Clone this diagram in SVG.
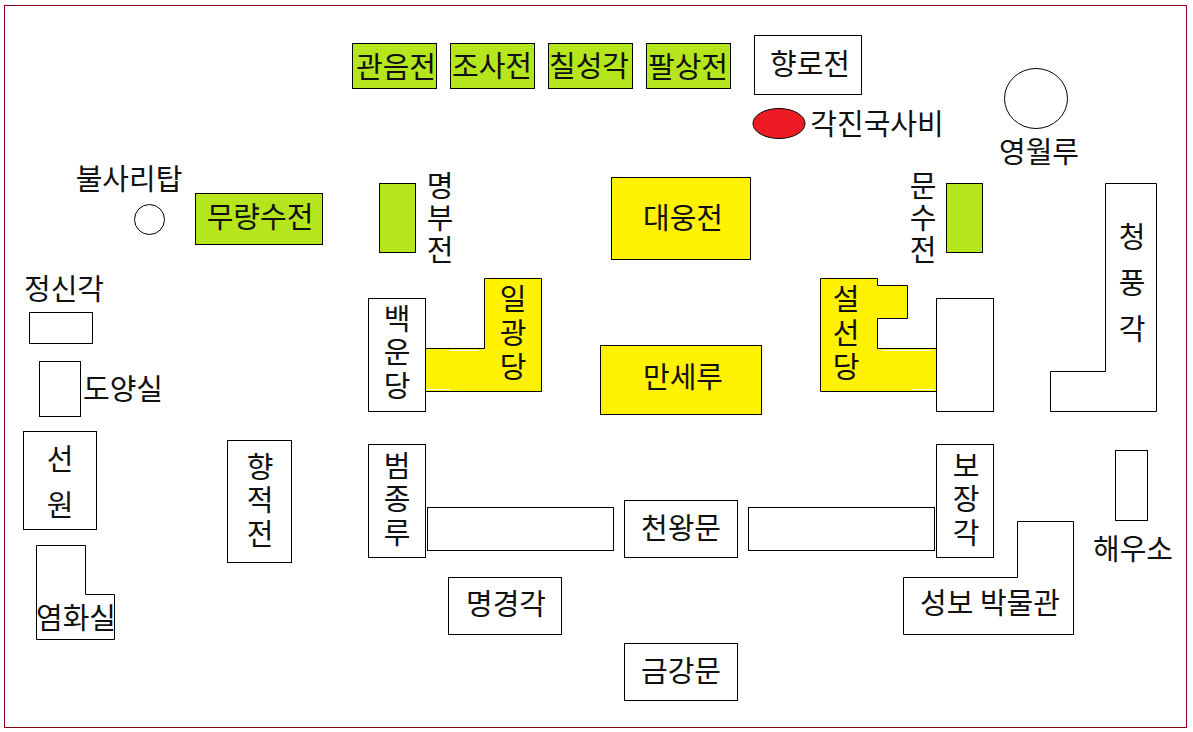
<svg xmlns="http://www.w3.org/2000/svg" width="1193" height="732" viewBox="0 0 1193 732">
<style>
text{font-family:"Noto Sans CJK KR","Liberation Sans",sans-serif;font-size:29px;fill:#111;text-anchor:middle;dominant-baseline:central}
.w{fill:#fff;stroke:#000;stroke-width:1}
.g{fill:#b5e61d;stroke:#000;stroke-width:1}
.y{fill:#fff200;stroke:#000;stroke-width:1}
.h{stroke:#fff;stroke-width:1;fill:none}
</style>
<rect width="1193" height="732" fill="#fff"/>
<rect id="frame" x="4.500" y="5.500" width="1182" height="722" fill="#fff" stroke="#880015"/>
<g id="gwaneumjeon"><rect class="g" x="352.500" y="43.500" width="84" height="45"/><text x="396" y="65">관음전</text></g>
<g id="josajeon"><rect class="g" x="450.500" y="43.500" width="84" height="45"/><text x="492" y="64">조사전</text></g>
<g id="chilseonggak"><rect class="g" x="548.500" y="43.500" width="84" height="45"/><text x="589" y="64">칠성각</text></g>
<g id="palsangjeon"><rect class="g" x="646.500" y="43.500" width="84" height="45"/><text x="688" y="65">팔상전</text></g>
<g id="hyangnojeon"><rect class="w" x="754.500" y="35.500" width="107" height="59"/><text x="810" y="62">향로전</text></g>
<g id="gakjin"><ellipse cx="779" cy="123.500" rx="26" ry="15" fill="#ed1c24" stroke="#000"/><text x="877" y="122">각진국사비</text></g>
<g id="yeongwollu"><ellipse cx="1036" cy="98.500" rx="31.500" ry="30" class="w"/><text x="1039" y="150">영월루</text></g>
<g id="bulsaritap"><circle cx="149.500" cy="219.500" r="15" class="w"/><text x="129" y="177">불사리탑</text></g>
<g id="muryangsujeon"><rect class="g" x="195.500" y="193.500" width="127" height="51"/><text x="260" y="215">무량수전</text></g>
<g id="myeongbujeon"><rect class="g" x="379.500" y="183.500" width="36" height="69"/><text><tspan x="440" y="184">명</tspan><tspan x="440" y="216">부</tspan><tspan x="440" y="248">전</tspan></text></g>
<g id="daeungjeon"><rect class="y" x="611.500" y="177.500" width="139" height="82"/><text x="683" y="216">대웅전</text></g>
<g id="munsujeon"><rect class="g" x="946.500" y="183.500" width="36" height="69"/><text><tspan x="923" y="184">문</tspan><tspan x="923" y="216">수</tspan><tspan x="923" y="248">전</tspan></text></g>
<g id="cheongpunggak"><path class="w" d="M1105.500 183.500H1156.500V411.500H1050.500V371.500H1105.500Z"/><text><tspan x="1132" y="235">청</tspan><tspan x="1132" y="281">풍</tspan><tspan x="1132" y="327">각</tspan></text></g>
<g id="jeongsingak"><rect class="w" x="29.500" y="312.500" width="63" height="31"/><text x="64" y="287">정신각</text></g>
<g id="doyangsil"><rect class="w" x="39.500" y="361.500" width="41" height="55"/><text x="123" y="387">도양실</text></g>
<g id="seonwon"><rect class="w" x="23.500" y="431.500" width="73" height="98"/><text><tspan x="60" y="457">선</tspan><tspan x="60" y="503">원</tspan></text></g>
<g id="yeomhwasil"><path class="w" d="M36.500 545.500H85.500V594.500H114.500V639.500H36.500Z"/><text x="76" y="616">염화실</text></g>
<g id="hyangjeokjeon"><rect class="w" x="227.500" y="440.500" width="64" height="122"/><text><tspan x="260" y="465">향</tspan><tspan x="260" y="498">적</tspan><tspan x="260" y="532">전</tspan></text></g>
<g id="ilgwangdang"><path class="y" d="M484.500 278.500H541.500V391.500H425.500V348.500H484.500Z"/><path class="h" d="M449 350.500H479M426 389.500H450"/><text><tspan x="513" y="297">일</tspan><tspan x="513" y="331">광</tspan><tspan x="513" y="365">당</tspan></text></g>
<g id="baegundang"><rect class="w" x="368.500" y="298.500" width="57" height="113"/><text><tspan x="397" y="317">백</tspan><tspan x="397" y="350">운</tspan><tspan x="397" y="384">당</tspan></text></g>
<g id="manseru"><rect class="y" x="600.500" y="345.500" width="161" height="69"/><text x="683" y="375">만세루</text></g>
<g id="seolseondang"><path class="y" d="M820.500 278.500H877.500V285.500H907.500V318.500H877.500V348.500H936.500V391.500H820.500Z"/><path class="h" d="M883 350.500H931M912 389.500H933"/><text><tspan x="846" y="297">설</tspan><tspan x="846" y="331">선</tspan><tspan x="846" y="365">당</tspan></text></g>
<g id="east-hall"><rect class="w" x="936.500" y="298.500" width="57" height="113"/></g>
<g id="beomjongnu"><rect class="w" x="368.500" y="444.500" width="57" height="113"/><text><tspan x="397" y="464">범</tspan><tspan x="397" y="497">종</tspan><tspan x="397" y="531">루</tspan></text></g>
<g id="corridor-w"><rect class="w" x="427.500" y="507.500" width="186" height="43"/></g>
<g id="cheonwangmun"><rect class="w" x="624.500" y="500.500" width="113" height="57"/><text x="681" y="526">천왕문</text></g>
<g id="corridor-e"><rect class="w" x="748.500" y="507.500" width="186" height="43"/></g>
<g id="bojanggak"><rect class="w" x="936.500" y="444.500" width="57" height="113"/><text><tspan x="966" y="464">보</tspan><tspan x="966" y="497">장</tspan><tspan x="966" y="531">각</tspan></text></g>
<g id="haeuso"><rect class="w" x="1115.500" y="450.500" width="32" height="70"/><text x="1133" y="547">해우소</text></g>
<g id="myeonggyeonggak"><rect class="w" x="448.500" y="577.500" width="113" height="57"/><text x="506" y="602">명경각</text></g>
<g id="geumgangmun"><rect class="w" x="624.500" y="643.500" width="113" height="57"/><text x="681" y="669">금강문</text></g>
<g id="museum"><path class="w" d="M1017.500 521.500H1073.500V634.500H903.500V577.500H1017.500Z"/><text x="990" y="601" xml:space="preserve">성보 박물관</text></g>
<g id="connectors"></g>
</svg>
